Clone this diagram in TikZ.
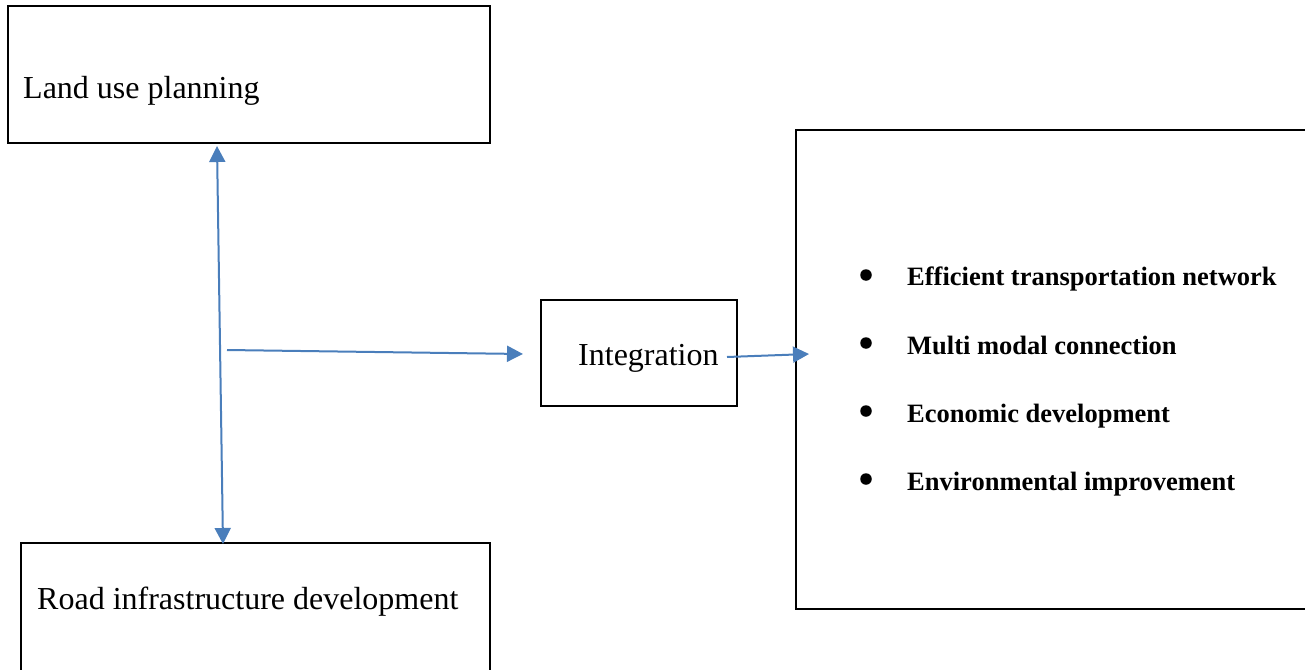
\documentclass[tikz,border=0pt]{standalone}
\usepackage{fontspec}
\setmainfont{Liberation Serif}
\usetikzlibrary{arrows.meta}
\definecolor{arrblue}{HTML}{4A7EBB}
\begin{document}
\begin{tikzpicture}[x=1pt,y=-1pt,
  box/.style={draw=black,line width=2pt,rectangle,inner sep=0pt},
  lbl/.style={anchor=base west,inner sep=0pt,font=\fontsize{32}{38}\selectfont},
  item/.style={anchor=base west,inner sep=0pt,font=\fontsize{26.5}{32}\selectfont\bfseries},
  dot/.style={circle,fill=black,inner sep=0pt,minimum size=11.5pt},
  arr/.style={draw=arrblue,line width=2pt,-{Triangle[length=16pt,width=16pt]}},
  darr/.style={draw=arrblue,line width=2pt,{Triangle[length=16pt,width=16pt]}-{Triangle[length=16pt,width=16pt]}}]
\useasboundingbox (0,0) rectangle (1305,669);
\clip (0,0) rectangle (1305,669);
% boxes
\node[box,minimum width=482pt,minimum height=137pt] (land) at (249,74.5) {};
\node[box,minimum width=469pt,minimum height=157pt] (road) at (255.5,621.5) {};
\node[box,minimum width=196pt,minimum height=106pt] (integ) at (639,353) {};
\node[box,minimum width=524pt,minimum height=479pt] (big) at (1058,369.5) {};
% texts
\node[lbl] (landt) at (23,98) {Land use planning};
\node[lbl] (roadt) at (37,609) {Road infrastructure development};
\node[lbl] (integt) at (578,365) {Integration};
\node[dot] (b1) at (866,275) {};
\node[dot] (b2) at (866,343) {};
\node[dot] (b3) at (866,411) {};
\node[dot] (b4) at (866,479) {};
\node[item] (i1) at (907,285) {Efficient transportation network};
\node[item] (i2) at (907,354) {Multi modal connection};
\node[item] (i3) at (907,422) {Economic development};
\node[item] (i4) at (907,490) {Environmental improvement};
% connectors
\coordinate (hstart) at (227,350);
\draw[darr] ([shift={(210pt,-2pt)}]land.south west) -- ([shift={(203pt,-2pt)}]road.north west);
\draw[arr] (hstart) -- ([shift={(-17pt,-1pt)}]integ.west);
\draw[arr] ([shift={(-11pt,-4pt)}]integ.east) -- ([shift={(14pt,15.5pt)}]big.west);
\end{tikzpicture}
\end{document}
